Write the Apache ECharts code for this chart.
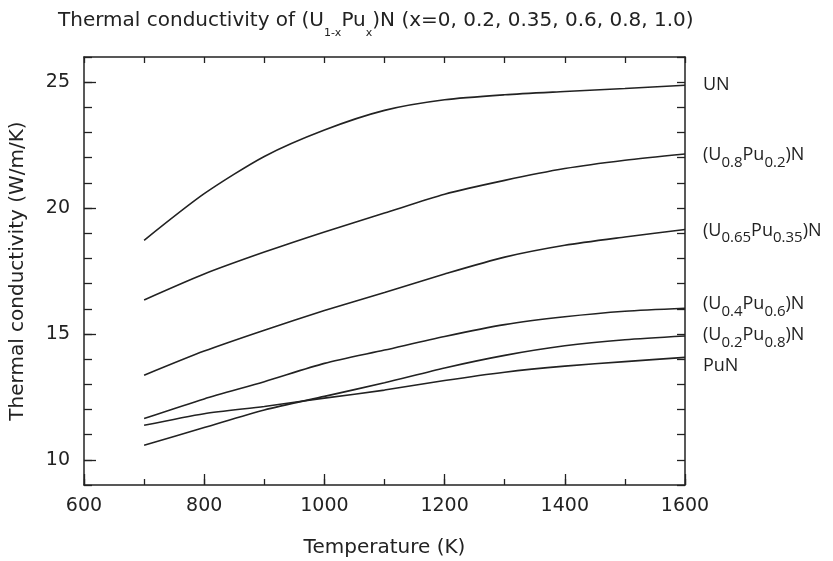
<!DOCTYPE html>
<html>
<head>
<meta charset="utf-8">
<script src="https://cdn.jsdelivr.net/npm/echarts@6/dist/echarts.min.js"></script>
<style>html,body{margin:0;padding:0;background:#fff;}#c{width:833px;height:561px;}</style>
</head>
<body>
<div id="c"></div>
<script>
const temps = [700, 800, 900, 1000, 1100, 1200, 1300, 1400, 1500, 1600];
const UN      = [18.72, 20.57, 22.05, 23.10, 23.88, 24.30, 24.50, 24.63, 24.75, 24.88];
const U08Pu02 = [16.35, 17.38, 18.25, 19.05, 19.80, 20.55, 21.10, 21.57, 21.90, 22.15];
const U065Pu035 = [13.36, 14.32, 15.15, 15.93, 16.65, 17.38, 18.05, 18.52, 18.85, 19.15];
const U04Pu06 = [11.64, 12.42, 13.10, 13.83, 14.36, 14.90, 15.37, 15.68, 15.90, 16.02];
const U02Pu08 = [10.58, 11.28, 11.98, 12.52, 13.06, 13.65, 14.15, 14.53, 14.77, 14.92];
const PuN     = [11.37, 11.83, 12.12, 12.45, 12.77, 13.15, 13.48, 13.72, 13.90, 14.07];
const xTicks = [600, 800, 1000, 1200, 1400, 1600];
const yTicks = [10, 15, 20, 25];
const labels = ['UN', '(U{s|0.8}Pu{s|0.2})N', '(U{s|0.65}Pu{s|0.35})N', '(U{s|0.4}Pu{s|0.6})N', '(U{s|0.2}Pu{s|0.8})N', 'PuN'];
const seriesVals = [UN, U08Pu02, U065Pu035, U04Pu06, U02Pu08, PuN];
const labelOffsets = [[0,0],[0,1],[0,1],[0,-4],[0,-1],[0,9]];

const axisFont = 'DejaVu Sans, sans-serif';
const lblFont = '"Open Sans", sans-serif';
const chart = echarts.init(document.getElementById('c'));
const lineCol = '#222';

const series = seriesVals.map((vals, i) => ({
  type: 'line',
  name: labels[i],
  data: temps.map((t, j) => [t, vals[j]]),
  smooth: 0.25,
  symbol: 'none',
  lineStyle: {color: lineCol, width: 1.6},
  xAxisIndex: 0, yAxisIndex: 0,
  endLabel: {
    show: true,
    formatter: labels[i],
    distance: 18,
    offset: labelOffsets[i],
    color: '#222',
    fontFamily: lblFont,
    fontSize: 18,
    rich: {
      s: {fontFamily: lblFont, fontSize: 15, color: '#222', verticalAlign: 'bottom', lineHeight: 14, padding: [0,0,-6,0]}
    }
  }
}));

chart.setOption({
  animation: false,
  backgroundColor: '#fff',
  title: {
    text: 'Thermal conductivity of (U{s|1-x}Pu{s|x})N (x=0, 0.2, 0.35, 0.6, 0.8, 1.0)',
    left: 53, top: 6,
    textStyle: {
      fontFamily: 'DejaVu Sans, sans-serif',
      fontWeight: 'normal', fontSize: 20, color: '#222',
      rich: {s: {fontFamily: 'DejaVu Sans, sans-serif', fontSize: 11, color: '#222', verticalAlign: 'bottom', padding: [0,0,-8,0]}}
    }
  },
  grid: {left: 84, right: 148, top: 57, bottom: 76, containLabel: false, outerBoundsMode: 'none'},
  xAxis: [
    {type: 'value', position: 'bottom', min: 600, max: 1600, interval: 100,
     name: 'Temperature (K)', nameLocation: 'middle', nameGap: 53,
     nameTextStyle: {fontFamily: axisFont, fontSize: 20, color: '#222'},
     axisLine: {lineStyle: {color: '#222', width: 1.5}},
     axisTick: {inside: true, length: 6, lineStyle: {color: '#222', width: 1.3}},
     axisLabel: {customValues: xTicks, formatter: v => String(v), fontFamily: axisFont, fontSize: 19, color: '#222', margin: 12},
     splitLine: {show: false}},
    {type: 'value', position: 'bottom', min: 600, max: 1600, interval: 200,
     axisLine: {show: false},
     axisTick: {inside: true, length: 11, lineStyle: {color: '#222', width: 1.3}},
     axisLabel: {show: false}, splitLine: {show: false}},
    {type: 'value', position: 'top', min: 600, max: 1600, interval: 100,
     axisLine: {lineStyle: {color: '#222', width: 1.5}},
     axisTick: {inside: true, length: 6, lineStyle: {color: '#222', width: 1.3}},
     axisLabel: {show: false}, splitLine: {show: false}}
  ],
  yAxis: [
    {type: 'value', position: 'left', min: 9, max: 26, interval: 1,
     name: 'Thermal conductivity (W/m/K)', nameLocation: 'middle', nameGap: 56, nameRotate: 90,
     nameTextStyle: {fontFamily: axisFont, fontSize: 20, color: '#222'},
     axisLine: {show: true, lineStyle: {color: '#222', width: 1.5}},
     axisTick: {show: true, inside: true, length: 8, lineStyle: {color: '#222', width: 1.3}},
     axisLabel: {customValues: yTicks, fontFamily: axisFont, fontSize: 19, color: '#222', margin: 14},
     splitLine: {show: false}},
    {type: 'value', position: 'left', min: 9, max: 26,
     axisLine: {show: false},
     axisTick: {show: true, inside: true, length: 12, customValues: yTicks, lineStyle: {color: '#222', width: 1.3}},
     axisLabel: {show: false}, splitLine: {show: false}},
    {type: 'value', position: 'right', min: 9, max: 26, interval: 1,
     axisLine: {show: true, lineStyle: {color: '#222', width: 1.5}},
     axisTick: {show: true, inside: true, length: 8, lineStyle: {color: '#222', width: 1.3}},
     axisLabel: {show: false}, splitLine: {show: false}}
  ],
  series: series
});
</script>
</body>
</html>
